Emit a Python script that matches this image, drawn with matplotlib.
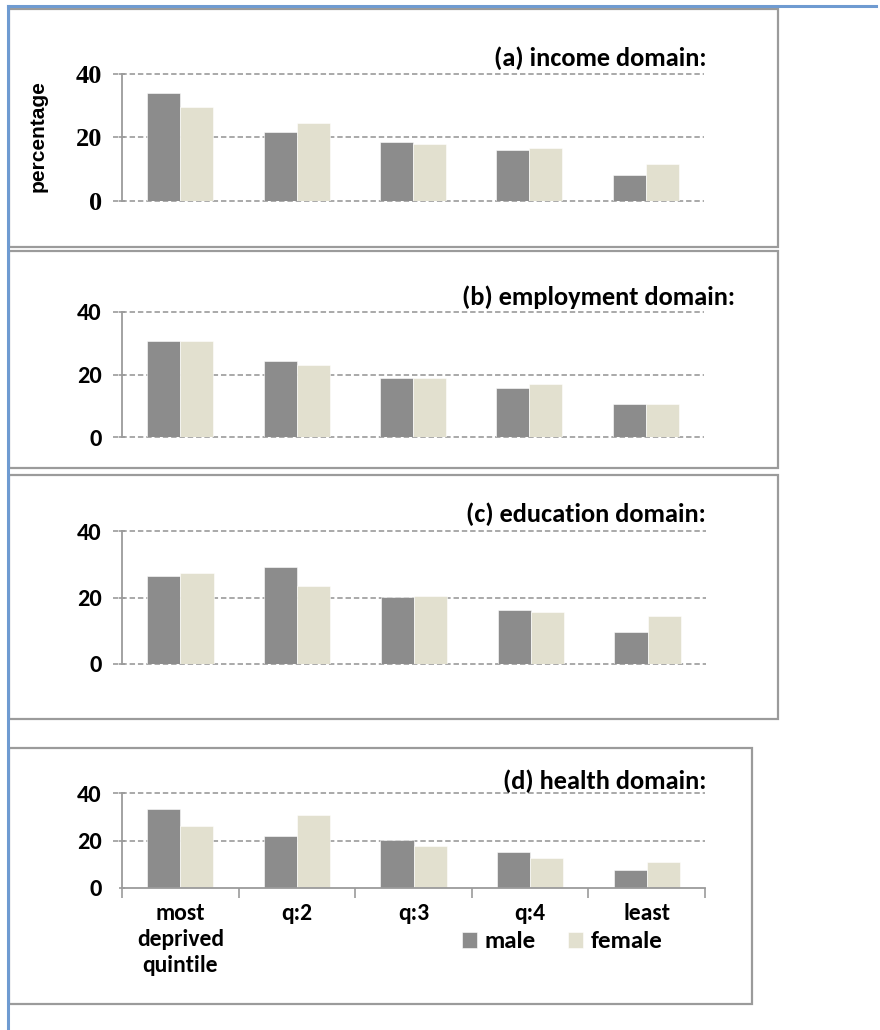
import numpy as np
import matplotlib
matplotlib.use("Agg")
import matplotlib.pyplot as plt
from matplotlib import font_manager
from matplotlib.patches import Rectangle
from matplotlib.lines import Line2D

# percentage of each group by deprivation quintile
quintiles = ["most\ndeprived\nquintile", "q:2", "q:3", "q:4", "least"]
yticks = [0, 20, 40]

income_male = [34.0, 21.8, 18.7, 16.0, 8.3]
income_female = [29.5, 24.5, 17.9, 16.7, 11.6]
employment_male = [30.7, 24.2, 18.9, 15.7, 10.5]
employment_female = [30.7, 22.9, 18.9, 16.9, 10.5]
education_male = [26.6, 29.1, 20.1, 16.2, 9.5]
education_female = [27.3, 23.6, 20.6, 15.5, 14.4]
health_male = [33.2, 21.9, 20.3, 15.2, 7.6]
health_female = [26.3, 30.6, 17.8, 12.7, 10.9]

titles = ["(a) income domain:", "(b) employment domain:",
          "(c) education domain:", "(d) health domain:"]

W, H = 880, 1030
MALE = "#8c8c8c"
FEMALE = "#e2e0cf"
GRID = "#a3a3a3"
FRAME = "#9b9b9b"

installed = {f.name for f in font_manager.fontManager.ttflist}


def pick(*names):
    for n in names:
        if n in installed:
            return n
    return "DejaVu Sans"


CAL = pick("Carlito", "Liberation Sans Narrow", "Open Sans", "Lato")
SERIF = pick("Liberation Serif", "DejaVu Serif")
ARIAL = pick("Liberation Sans", "DejaVu Sans")

plt.rcParams["font.family"] = [CAL, "DejaVu Sans"]
plt.rcParams["font.weight"] = "bold"


def fig_rect(x0, y0, x1, y1):
    # pixel box (top-left origin) -> figure fraction [l, b, w, h]
    return [x0 / W, 1 - y1 / H, (x1 - x0) / W, (y1 - y0) / H]


fig = plt.figure(figsize=(W / 100, H / 100), dpi=100)
fig.patch.set_facecolor("white")

# outer blue frame (left and top only)
fig.add_artist(Line2D([7.5 / W, 7.5 / W], [1 - 6 / H, 0], transform=fig.transFigure,
                      color="#6f9bd1", lw=2.2))
fig.add_artist(Line2D([7.5 / W, 876 / W], [1 - 6 / H, 1 - 6 / H], transform=fig.transFigure,
                      color="#6f9bd1", lw=2.2))

panels = [
    # box, plot area, title right edge / centre y, data
    ((9, 9, 778, 247), (122, 74, 704, 201), (706, 58), income_male, income_female),
    ((9, 251, 778, 468), (122, 312, 704, 437), (735, 297), employment_male, employment_female),
    ((9, 475, 778, 719), (122, 531, 706, 664), (706, 514), education_male, education_female),
    ((9, 748, 752, 1004), (122, 793, 705, 888), (706, 781), health_male, health_female),
]

x = np.arange(len(quintiles))
bw = 0.284

for i, (bx, area, (tx, ty), m, f) in enumerate(panels):
    r = fig_rect(*bx)
    fig.add_artist(Rectangle((r[0], r[1]), r[2], r[3], transform=fig.transFigure,
                             fill=False, edgecolor=FRAME, lw=1.6))

    ax = fig.add_axes(fig_rect(*area))
    ax.set_xlim(-0.5, 4.5)
    ax.set_ylim(0, 40)
    ax.set_facecolor("none")

    ax.bar(x - bw / 2, m, bw, color=MALE, edgecolor="white", lw=0.4,
           zorder=2, label="male")
    ax.bar(x + bw / 2, f, bw, color=FEMALE, edgecolor="white", lw=0.4,
           zorder=2, label="female")

    last = i == len(panels) - 1
    for y in yticks:
        if last and y == 0:
            continue
        ax.axhline(y, xmin=-0.015, xmax=1, clip_on=False, color=GRID, lw=1.3,
                   ls=(0, (3, 1.6)), zorder=1)

    for s in ["top", "right"]:
        ax.spines[s].set_visible(False)
    ax.spines["left"].set_color(FRAME)
    ax.spines["left"].set_linewidth(1.3)
    ax.spines["left"].set_zorder(1)

    ax.tick_params(axis="y", length=5, width=1.2, color=FRAME, direction="inout", pad=12)
    ax.set_yticks(yticks)
    if i == 0:
        ax.set_yticklabels([str(v) for v in yticks], fontfamily=SERIF,
                           fontweight="bold", fontsize=19)
    else:
        ax.set_yticklabels([str(v) for v in yticks], fontfamily=CAL,
                           fontweight="bold", fontsize=17.5)

    if last:
        ax.spines["bottom"].set_color(FRAME)
        ax.spines["bottom"].set_linewidth(1.3)
        ax.tick_params(axis="x", which="major", length=7, width=1.2, color=FRAME)
        ax.tick_params(axis="x", which="minor", length=0, pad=11)
        ax.set_xticks(np.arange(-0.5, 5.0, 1.0))
        ax.set_xticklabels([])
        ax.set_xticks(x, minor=True)
        ax.set_xticklabels(quintiles, minor=True, fontfamily=CAL, fontweight="bold",
                           fontsize=17, linespacing=1.3, va="top")
        fig.legend(*ax.get_legend_handles_labels(), loc="center left",
                   bbox_to_anchor=(462 / W, 1 - 942 / H), ncol=2,
                   frameon=False, borderpad=0, borderaxespad=0,
                   handlelength=0.6, handleheight=0.6,
                   handletextpad=0.3, columnspacing=1.3,
                   prop={"family": CAL, "weight": "bold", "size": 18})
    else:
        ax.spines["bottom"].set_visible(False)
        ax.set_xticks([])

    fig.text(tx / W, 1 - ty / H, titles[i], ha="right", va="center",
             fontfamily=CAL, fontweight="bold", fontsize=19)

fig.text(38 / W, 1 - 136 / H, "percentage", rotation=90, ha="center", va="center",
         fontfamily=ARIAL, fontweight="bold", fontsize=15)

fig.savefig("out.png", dpi=100)
